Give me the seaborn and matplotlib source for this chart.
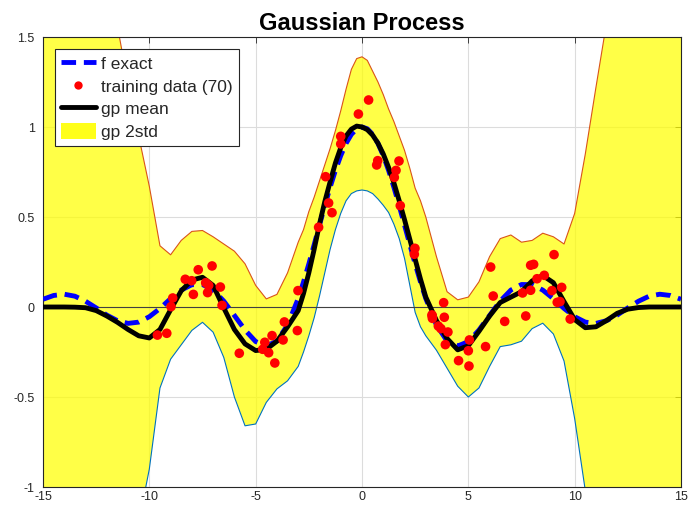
import matplotlib
matplotlib.use("Agg")
import matplotlib.pyplot as plt
import seaborn as sns
from matplotlib.lines import Line2D
from matplotlib.patches import Patch

# Rejilla de x (mas fina cerca del pico)
x_grid = [-15, -14.5, -14, -13.5, -13, -12.5, -12, -11.5, -11, -10.5, -10, -9.5, -9,
          -8.5, -8, -7.5, -7, -6.5, -6, -5.5, -5, -4.5, -4, -3.5, -3,
          -2.75, -2.5, -2.25, -2, -1.75, -1.5, -1.25, -1, -0.75, -0.5, -0.25, 0,
          0.25, 0.5, 0.75, 1, 1.25, 1.5, 1.75, 2, 2.25, 2.5, 2.75,
          3, 3.5, 4, 4.5, 5, 5.5, 6, 6.5, 7, 7.5, 8, 8.5, 9, 9.5, 10, 10.5, 11,
          11.5, 12, 12.5, 13, 13.5, 14, 14.5, 15]

f_exact = [0.043, 0.064, 0.071, 0.060, 0.032, -0.005, -0.045, -0.076, -0.091, -0.084, -0.054, -0.008, 0.046,
           0.094, 0.124, 0.125, 0.094, 0.033, -0.047, -0.128, -0.192, -0.217, -0.189, -0.100, 0.047,
           0.139, 0.239, 0.346, 0.455, 0.562, 0.665, 0.759, 0.841, 0.909, 0.959, 0.990, 1.000,
           0.990, 0.959, 0.909, 0.841, 0.759, 0.665, 0.562, 0.455, 0.346, 0.239, 0.139,
           0.047, -0.100, -0.189, -0.217, -0.192, -0.128, -0.047, 0.033, 0.094, 0.125, 0.124, 0.094, 0.046, -0.008,
           -0.054, -0.084, -0.091, -0.076, -0.045, -0.005, 0.032, 0.060, 0.071, 0.064, 0.043]

gp_mean = [0, 0, 0, -0.001, -0.004, -0.02, -0.05, -0.085, -0.125, -0.16, -0.172, -0.125, -0.015,
           0.09, 0.15, 0.165, 0.12, -0.005, -0.125, -0.205, -0.242, -0.235, -0.19, -0.11, -0.02,
           0.075, 0.19, 0.32, 0.46, 0.585, 0.695, 0.80, 0.885, 0.95, 0.988, 1.005, 1.0,
           0.985, 0.955, 0.91, 0.85, 0.775, 0.69, 0.59, 0.485, 0.375, 0.265, 0.155,
           0.055, -0.075, -0.175, -0.238, -0.215, -0.135, -0.05, 0.025, 0.055, 0.085, 0.145, 0.175, 0.135, 0.03,
           -0.07, -0.115, -0.11, -0.075, -0.035, -0.012, -0.003, 0, 0, 0, 0]

gp_upper = [5.0, 4.6, 4.2, 3.7, 3.1, 2.5, 1.95, 1.56, 1.24, 0.95, 0.67, 0.34, 0.29,
            0.37, 0.42, 0.425, 0.39, 0.35, 0.31, 0.24, 0.12, 0.045, 0.07, 0.19, 0.36,
            0.43, 0.53, 0.61, 0.70, 0.79, 0.88, 0.98, 1.09, 1.21, 1.32, 1.38, 1.39,
            1.37, 1.31, 1.25, 1.18, 1.10, 1.03, 0.95, 0.87, 0.77, 0.66, 0.59,
            0.50, 0.28, 0.085, 0.04, 0.055, 0.14, 0.28, 0.38, 0.40, 0.36, 0.37, 0.41, 0.39, 0.35,
            0.52, 0.85, 1.22, 1.58, 1.95, 2.5, 3.1, 3.7, 4.2, 4.6, 5.0]

gp_lower = [-5.0, -4.6, -4.1, -3.6, -3.1, -2.6, -2.2, -1.85, -1.5, -1.2, -0.9, -0.45, -0.29,
            -0.21, -0.13, -0.085, -0.14, -0.28, -0.50, -0.66, -0.65, -0.53, -0.455, -0.41, -0.33,
            -0.25, -0.16, -0.06, 0.06, 0.19, 0.32, 0.43, 0.52, 0.59, 0.63, 0.645, 0.65,
            0.645, 0.63, 0.60, 0.565, 0.525, 0.46, 0.38, 0.27, 0.12, -0.03, -0.11,
            -0.16, -0.24, -0.34, -0.44, -0.50, -0.45, -0.33, -0.22, -0.21, -0.19, -0.12, -0.09, -0.15, -0.30,
            -0.62, -1.02, -1.5, -1.9, -2.3, -2.7, -3.1, -3.6, -4.1, -4.6, -5.0]

# Datos de entrenamiento (70)
train_x = [-9.62, -9.18, -8.98, -8.90, -8.31, -8.01, -7.70, -7.93, -7.05, -7.35, -7.21, -7.26, -6.66, -6.58,
           -5.77, -4.67, -4.57, -4.39, -4.23, -4.10, -3.71, -3.65, -3.04, -3.01, -2.04, -1.71, -1.57, -1.41,
           -1.00, -1.00, -0.17, 0.31, 0.74, 0.69, 1.74, 1.60, 1.52, 1.80, 2.49, 2.46, 3.84, 3.29, 3.31, 3.87,
           3.59, 3.71, 4.04, 3.92, 5.05, 5.00, 4.54, 5.03, 5.81, 6.05, 6.17, 6.71, 7.70, 7.55, 7.93, 7.93,
           8.07, 9.03, 8.23, 8.57, 8.93, 9.39, 9.18, 9.31, 9.79, 3.30]
train_y = [-0.156, -0.146, 0.002, 0.05, 0.154, 0.146, 0.207, 0.07, 0.228, 0.135, 0.12, 0.08, 0.111, 0.009,
           -0.257, -0.235, -0.196, -0.254, -0.159, -0.311, -0.183, -0.083, -0.131, 0.091, 0.443, 0.724, 0.578, 0.524,
           0.948, 0.906, 1.072, 1.15, 0.813, 0.789, 0.811, 0.759, 0.72, 0.563, 0.326, 0.293, 0.024, -0.044, -0.063, -0.057,
           -0.106, -0.12, -0.139, -0.209, -0.183, -0.243, -0.298, -0.328, -0.22, 0.222, 0.061, -0.08, -0.05, 0.078, 0.093, 0.232,
           0.237, 0.291, 0.157, 0.176, 0.091, 0.109, 0.026, 0.03, -0.067, -0.05]

x_ticks = [-15, -10, -5, 0, 5, 10, 15]
y_ticks = [-1, -0.5, 0, 0.5, 1, 1.5]
y_tick_labels = ['-1', '-0.5', '0', '0.5', '1', '1.5']

sns.set_style("white")
plt.rcParams['font.family'] = ['Liberation Sans', 'DejaVu Sans']

COLOR_UP = "#d95319"
COLOR_LO = "#0072bd"
AX_COLOR = "#262626"

fig = plt.figure(figsize=(6.96, 5.05), dpi=100)
ax = fig.add_axes([43 / 696, 1 - 487 / 505, (681 - 43) / 696, (487 - 37) / 505])

# banda 2std
ax.fill_between(x_grid, gp_lower, gp_upper, color="#ffff00", alpha=0.72, linewidth=0, zorder=1)
sns.lineplot(x=x_grid, y=gp_upper, ax=ax, color=COLOR_UP, linewidth=0.8, estimator=None, zorder=2)
sns.lineplot(x=x_grid, y=gp_lower, ax=ax, color=COLOR_LO, linewidth=0.8, estimator=None, zorder=2)
ax.axhline(0, color="#404040", linewidth=0.8, zorder=2)

# funcion exacta y media
sns.lineplot(x=x_grid, y=f_exact, ax=ax, color="blue", linewidth=3.5, estimator=None, zorder=3)
ax.lines[-1].set_dashes([3, 1.6])
sns.lineplot(x=x_grid, y=gp_mean, ax=ax, color="black", linewidth=3.5, estimator=None, zorder=4)
sns.scatterplot(x=train_x, y=train_y, ax=ax, color="red", s=48, edgecolor="none", zorder=5)

ax.set_xlim(-15, 15)
ax.set_ylim(-1, 1.5)
ax.set_xticks(x_ticks)
ax.set_xticklabels([str(t) for t in x_ticks])
ax.set_yticks(y_ticks)
ax.set_yticklabels(y_tick_labels)
ax.grid(True, color="#dcdcdc", linewidth=0.8)
ax.set_axisbelow(True)
ax.tick_params(direction="in", top=True, right=True, length=4, width=0.6,
               labelsize=9, colors=AX_COLOR)
ax.tick_params(axis="x", pad=3)
ax.tick_params(axis="y", pad=6)
for sp in ax.spines.values():
    sp.set_color(AX_COLOR)
    sp.set_linewidth(0.8)

ax.set_title("Gaussian Process", fontsize=17, fontweight="bold", pad=5, color="black")

handles = [
    Line2D([0], [0], color="blue", linewidth=3.5, dashes=[3, 1.6]),
    Line2D([0], [0], color="red", marker="o", linestyle="none", markersize=6, markeredgewidth=0),
    Line2D([0], [0], color="black", linewidth=3.5),
    Patch(facecolor="#ffff00", alpha=0.9, edgecolor="none"),
]
labels = ["f exact", "training data (70)", "gp mean", "gp 2std"]
leg = ax.legend(handles, labels, loc="upper left", bbox_to_anchor=(0.0188, 0.973), borderaxespad=0,
                fontsize=12.5, fancybox=False, framealpha=1, edgecolor=AX_COLOR,
                handlelength=2.0, handleheight=1.1, handletextpad=0.3, labelspacing=0.3, borderpad=0.35)
leg.get_frame().set_linewidth(0.8)

plt.savefig("out.png", dpi=100)
plt.close()
